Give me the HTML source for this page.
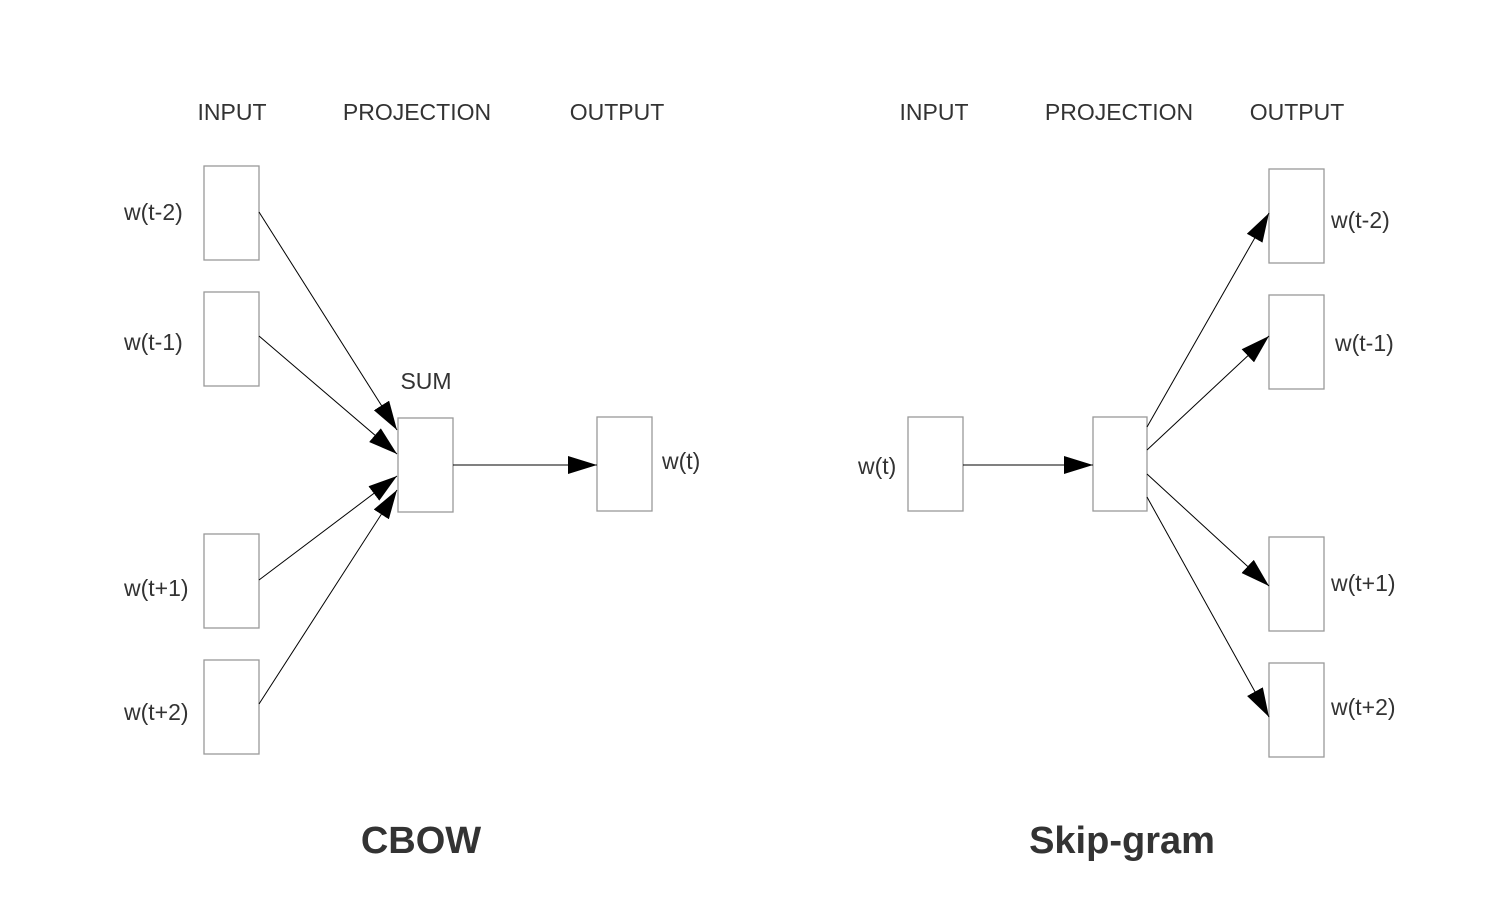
<!DOCTYPE html>
<html><head><style>body{margin:0;background:#fff}svg{display:block}</style></head><body>
<svg width="1488" height="920" viewBox="0 0 1488 920" xmlns="http://www.w3.org/2000/svg" font-family="Liberation Sans, Arial, sans-serif">
<defs><marker id="a" markerWidth="30" markerHeight="20" refX="29" refY="9" orient="auto" markerUnits="userSpaceOnUse"><path d="M0,0 L29,9 L0,18 z" fill="#000"/></marker></defs>
<g fill="#333" font-size="23">
<text x="232" y="120" text-anchor="middle">INPUT</text>
<text x="417" y="120" text-anchor="middle">PROJECTION</text>
<text x="617" y="120" text-anchor="middle">OUTPUT</text>
<text x="934" y="120" text-anchor="middle">INPUT</text>
<text x="1119" y="120" text-anchor="middle">PROJECTION</text>
<text x="1297" y="120" text-anchor="middle">OUTPUT</text>
<text x="426" y="389" text-anchor="middle">SUM</text>
<text x="124" y="220">w(t-2)</text>
<text x="124" y="350">w(t-1)</text>
<text x="124" y="596">w(t+1)</text>
<text x="124" y="720">w(t+2)</text>
<text x="662" y="469">w(t)</text>
<text x="858" y="474">w(t)</text>
<text x="1331" y="228">w(t-2)</text>
<text x="1335" y="351">w(t-1)</text>
<text x="1331" y="591">w(t+1)</text>
<text x="1331" y="715">w(t+2)</text>
</g>
<g font-size="38" font-weight="bold" fill="#333" text-anchor="middle">
<text x="421" y="853">CBOW</text>
<text x="1122" y="853">Skip-gram</text>
</g>
<g fill="#fff" stroke="#999" stroke-width="1.3">
<rect x="204" y="166" width="55" height="94"/>
<rect x="204" y="292" width="55" height="94"/>
<rect x="204" y="534" width="55" height="94"/>
<rect x="204" y="660" width="55" height="94"/>
<rect x="398" y="418" width="55" height="94"/>
<rect x="597" y="417" width="55" height="94"/>
<rect x="908" y="417" width="55" height="94"/>
<rect x="1093" y="417" width="54" height="94"/>
<rect x="1269" y="169" width="55" height="94"/>
<rect x="1269" y="295" width="55" height="94"/>
<rect x="1269" y="537" width="55" height="94"/>
<rect x="1269" y="663" width="55" height="94"/>
</g>
<g stroke="#000" stroke-width="1" marker-end="url(#a)">
<line x1="259" y1="212" x2="397" y2="430"/>
<line x1="259" y1="336" x2="397" y2="454"/>
<line x1="259" y1="580" x2="397" y2="476"/>
<line x1="259" y1="704" x2="397" y2="490"/>
<line x1="453" y1="465" x2="597" y2="465"/>
<line x1="963" y1="465" x2="1093" y2="465"/>
<line x1="1147" y1="427" x2="1269" y2="213"/>
<line x1="1147" y1="450" x2="1269" y2="336"/>
<line x1="1147" y1="474" x2="1269" y2="586"/>
<line x1="1147" y1="497" x2="1269" y2="717"/>
</g>
</svg>
</body></html>
